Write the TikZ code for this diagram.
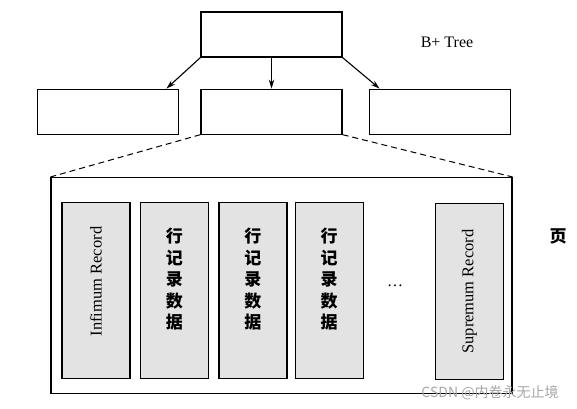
\documentclass[tikz,border=0pt]{standalone}
\usepackage{fontspec}
\setmainfont{Liberation Serif}
\newfontfamily\cjk{Noto Sans CJK SC}
\usetikzlibrary{arrows.meta, positioning}

\begin{document}
\begin{tikzpicture}[
            x = 1pt, y = -1pt,
            node distance  = 9pt,
            treebox/.style = {
                rectangle,
                draw            = black,
                line width      = 1.1pt,
                fill            = white,
                minimum width   = 141pt,
                minimum height  = 45pt
            },
            recbox/.style = {
                rectangle,
                draw            = black,
                line width      = 1.4pt,
                fill            = gray!22,
                minimum width   = 68pt,
                minimum height  = 176pt
            },
            rectext/.style = {
                rotate = 90,
                font   = \fontsize{16.5}{18}\selectfont
            },
            rowtext/.style = {
                align = center,
                font  = \cjk\bfseries\fontsize{17}{21.5}\selectfont
            },
            flow/.style = {-{Stealth[length=9pt, width=5.5pt]}, line width=1.1pt},
            zoomline/.style = {dashed, dash pattern=on 6pt off 4pt, line width=1pt}
        ]
            \useasboundingbox (0,0) rectangle (577,408);

            % B+ tree
            \node[treebox] (root) at (271.5,34.5) {};
            \node[treebox, below = 31pt of root]  (mid)   {};
            \node[treebox, left  = 21pt of mid]   (left)  {};
            \node[treebox, right = 26pt of mid]   (right) {};
            \node[font=\fontsize{16}{18}\selectfont] (treename) at (447,42) {B+ Tree};

            \draw[flow] (root.south west) -- ([xshift=-13pt]left.north east);
            \draw[flow] (root.south)      -- (mid.north);
            \draw[flow] (root.south east) -- ([xshift=11pt]right.north west);

            % page
            \node[rectangle, draw=black, line width=1.1pt,
                  minimum width=461pt, minimum height=216pt] (page) at (281.5,285.5) {};
            \draw[zoomline] (mid.south west) -- (page.north west);
            \draw[zoomline] (mid.south east) -- (page.north east);
            \node[font=\cjk\bfseries\fontsize{17}{18}\selectfont] (pagename) at (558,236) {页};

            \node[recbox] (infimum) at (96,290.5) {};
            \node[recbox, right = of infimum] (rowA) {};
            \node[recbox, right = of rowA]    (rowB) {};
            \node[recbox, right = 7pt of rowB] (rowC) {};
            \node[recbox] (supremum) at (469.5,291.5) {};

            \node[rectext] at ([yshift=9pt]infimum.center) {Infimum Record};
            \node[rectext] at (supremum.center) {Supremum Record};
            \node[rowtext] at ([yshift=11pt]rowA.center) {行\\记\\录\\数\\据};
            \node[rowtext] at ([yshift=11pt]rowB.center) {行\\记\\录\\数\\据};
            \node[rowtext] at ([yshift=11pt]rowC.center) {行\\记\\录\\数\\据};
            \node[font=\fontsize{16}{18}\selectfont] (dots) at (395,286) {\dots};

            % watermark
            \node[font=\cjk\fontsize{14}{16}\selectfont, text=gray!70] (mark) at (490,393) {CSDN @内卷永无止境};
\end{tikzpicture}
\end{document}
